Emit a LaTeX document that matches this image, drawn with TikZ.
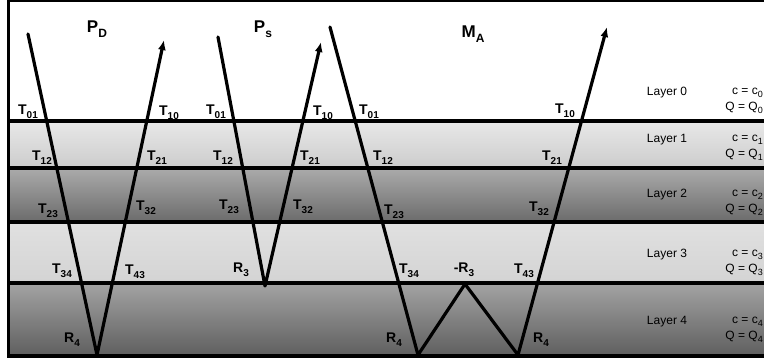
\documentclass[tikz,border=0pt]{standalone}
\usepackage{fontspec}
\setmainfont{Liberation Sans}
\usetikzlibrary{arrows.meta}

\newcommand{\lowsub}[1]{\raisebox{-0.5ex}{\fontsize{10}{10}\selectfont #1}}
\newcommand{\titlesub}[1]{\raisebox{-0.55ex}{\fontsize{12}{12}\selectfont #1}}
\newcommand{\laysub}[1]{\raisebox{-0.4ex}{\fontsize{9}{9}\selectfont #1}}

\tikzset{
    tlab/.style={font=\bfseries\fontsize{14}{14}\selectfont, inner sep=0pt},
    title/.style={font=\bfseries\fontsize{17}{17}\selectfont, inner sep=0pt},
    laylab/.style={font=\fontsize{12}{12}\selectfont, inner sep=0pt},
    ray/.style={line width=3.2pt, line cap=round, line join=round},
    bound/.style={line width=3.2pt}
}

\begin{document}
\begin{tikzpicture}[x=1pt, y=-1pt]
                \useasboundingbox (0,0) rectangle (764,360);

                % Layers
                \shade[top color=black!9, bottom color=black!20] (8,121) rectangle (764,168);
                \shade[top color=black!33, bottom color=black!58] (8,168) rectangle (764,222);
                \shade[top color=black!12, bottom color=black!17] (8,222) rectangle (764,283);
                \shade[top color=black!36, bottom color=black!63] (8,283) rectangle (764,356);

                \foreach \yy in {121,168,222,283,356} {
                    \draw[bound] (8,\yy) -- (764,\yy);
                }
                \draw[line width=1.2pt] (8,1) -- (764,1);
                \draw[bound] (8.5,0) -- (8.5,357.5);

                % Layer labels
                \foreach \k/\yy in {0/93,1/140,2/195,3/255,4/322} {
                    \node[laylab] (lay\k) at (667,\yy) {Layer \k};
                    \node[laylab, anchor=east] (c\k) at (763,\yy) {c = c\laysub{\k}};
                    \node[laylab, anchor=east] (q\k) at (763,{\yy+15}) {Q = Q\laysub{\k}};
                }

                % Titles
                \node[title] (pd) at (97,29) {P\titlesub{D}};
                \node[title] (ps) at (263,29) {P\titlesub{s}};
                \node[title] (ma) at (473,34) {M\titlesub{A}};

                % Ray points
                \coordinate (pdin) at (28,34);
                \coordinate (pdbot) at (97,355);
                \coordinate (pdout) at (164,40);
                \coordinate (psin) at (218,37);
                \coordinate (psbot) at (265,286);
                \coordinate (psout) at (321,42);
                \coordinate (main) at (330,27);
                \coordinate (mabotA) at (418,355);
                \coordinate (matop) at (465,284);
                \coordinate (mabotB) at (518,355);
                \coordinate (maout) at (607,27);

                % Rays
                \draw[ray, -{Latex[length=10pt,width=8pt]}] (pdin) -- (pdbot) -- (pdout);
                \draw[ray, -{Latex[length=10pt,width=8pt]}] (psin) -- (psbot) -- (psout);
                \draw[ray, -{Latex[length=10pt,width=8pt]}] (main) -- (mabotA) -- (matop) -- (mabotB) -- (maout);

                % Transmission and reflection labels
                \node[tlab] (t01a) at (28,112) {T\lowsub{01}};
                \node[tlab] (t10a) at (169,113) {T\lowsub{10}};
                \node[tlab] (t01b) at (216,112) {T\lowsub{01}};
                \node[tlab] (t10b) at (323,113) {T\lowsub{10}};
                \node[tlab] (t01c) at (369,112) {T\lowsub{01}};
                \node[tlab] (t10c) at (565,111) {T\lowsub{10}};

                \node[tlab] (t12a) at (42,158) {T\lowsub{12}};
                \node[tlab] (t21a) at (157,158) {T\lowsub{21}};
                \node[tlab] (t12b) at (223,158) {T\lowsub{12}};
                \node[tlab] (t21b) at (310,158) {T\lowsub{21}};
                \node[tlab] (t12c) at (383,158) {T\lowsub{12}};
                \node[tlab] (t21c) at (552,158) {T\lowsub{21}};

                \node[tlab] (t23a) at (48,211) {T\lowsub{23}};
                \node[tlab] (t32a) at (146,208) {T\lowsub{32}};
                \node[tlab] (t23b) at (229,207) {T\lowsub{23}};
                \node[tlab] (t32b) at (303,207) {T\lowsub{32}};
                \node[tlab] (t23c) at (394,212) {T\lowsub{23}};
                \node[tlab] (t32c) at (539,209) {T\lowsub{32}};

                \node[tlab] (t34a) at (62,271) {T\lowsub{34}};
                \node[tlab] (t43a) at (135,272) {T\lowsub{43}};
                \node[tlab] (r3a) at (241,270) {R\lowsub{3}};
                \node[tlab] (t34c) at (409,271) {T\lowsub{34}};
                \node[tlab] (mr3) at (464,270) {-R\lowsub{3}};
                \node[tlab] (t43c) at (524,271) {T\lowsub{43}};

                \node[tlab] (r4a) at (72,340) {R\lowsub{4}};
                \node[tlab] (r4c) at (394,340) {R\lowsub{4}};
                \node[tlab] (r4d) at (541,340) {R\lowsub{4}};

\end{tikzpicture}
\end{document}
